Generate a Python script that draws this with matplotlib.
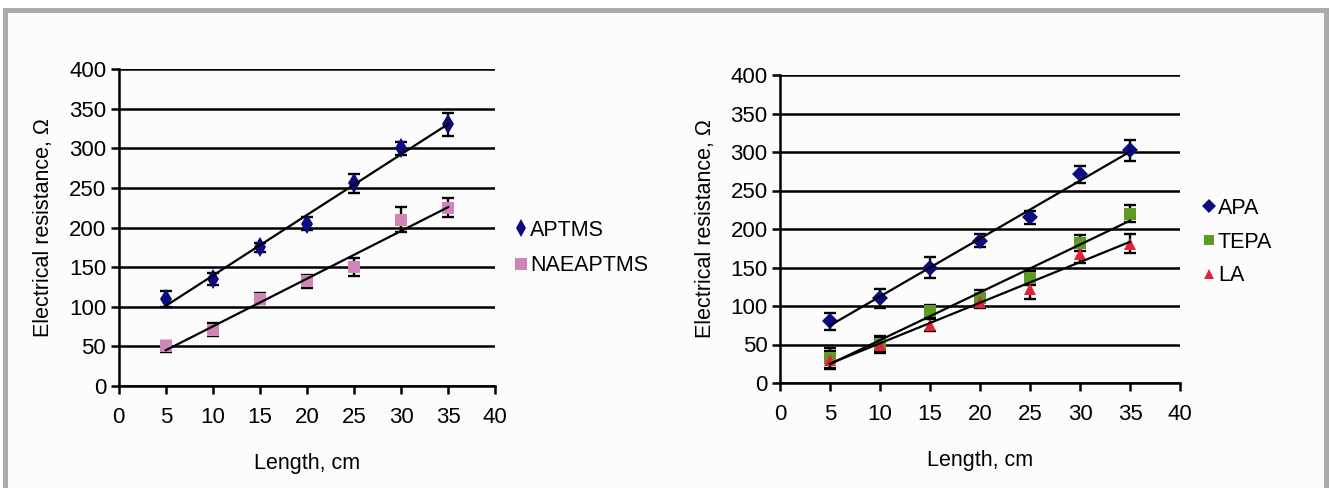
import numpy as np
import matplotlib
matplotlib.use("Agg")
import matplotlib.pyplot as plt
from matplotlib.patches import Rectangle

plt.rcParams['font.family'] = ['Liberation Sans', 'DejaVu Sans']

# ---------------- data ----------------
length = [5, 10, 15, 20, 25, 30, 35]

aptms = [110, 135, 175, 205, 256, 300, 330]
aptms_err = [10, 7, 6, 8, 12, 8, 14]
naeaptms = [50, 71, 110, 132, 150, 210, 225]
naeaptms_err = [7, 8, 7, 8, 11, 16, 12]

apa = [80, 110, 150, 185, 215, 271, 302]
apa_err = [11, 12, 14, 9, 9, 11, 14]
tepa = [32, 51, 93, 110, 136, 182, 220]
tepa_err = [13, 10, 8, 11, 9, 10, 11]
la = [30, 49, 75, 105, 122, 168, 181]
la_err = [12, 10, 8, 8, 13, 12, 12]

x_ticks = [0, 5, 10, 15, 20, 25, 30, 35, 40]
y_ticks = [0, 50, 100, 150, 200, 250, 300, 350, 400]

NAVY = '#0c0c80'
PINK = '#cf86b6'
GREEN = '#5f9b24'
RED = '#e2223a'

TICK_FS = 16
LAB_FS = 15.5

fig = plt.figure(figsize=(13.3, 4.88), dpi=100, facecolor='white')
W, H = 1330, 488

# outer frame
fig.patches.append(Rectangle((5.5 / W, (H - 510) / H), 1320 / W, (510 - 9.5) / H,
                             transform=fig.transFigure, facecolor='#fcfcfc',
                             edgecolor='#ababab', linewidth=3.6, zorder=-10))


def px_axes(x0, x1, ytop, ybot):
    return fig.add_axes([x0 / W, (H - ybot) / H, (x1 - x0) / W, (ybot - ytop) / H])


def style(ax, ylabelpad):
    ax.set_facecolor('none')
    ax.set_xlim(0, 40)
    ax.set_ylim(0, 400)
    ax.set_xticks(x_ticks)
    ax.set_yticks(y_ticks)
    for s in ['top', 'right']:
        ax.spines[s].set_visible(False)
    ax.spines['left'].set_linewidth(1.8)
    ax.spines['bottom'].set_linewidth(1.8)
    ax.yaxis.grid(True, color='black', linewidth=1.8)
    ax.set_axisbelow(True)
    ax.tick_params(axis='both', direction='out', length=6, width=1.8,
                   labelsize=TICK_FS, colors='black')
    ax.tick_params(axis='x', pad=9)
    ax.tick_params(axis='y', pad=3)
    ax.set_xlabel('Length, cm', fontsize=LAB_FS, labelpad=18)
    ax.set_ylabel('Electrical resistance, Ω', fontsize=LAB_FS, labelpad=ylabelpad)


def series(ax, y, err, marker, color, ms, label):
    x = np.array(length)
    yv = np.array(y)
    ax.errorbar(x, yv, yerr=err, fmt='none', ecolor='black', elinewidth=1.7,
                capsize=4, capthick=1.7, zorder=3)
    ax.plot(x, yv, linestyle='none', marker=marker, color=color, markersize=ms,
            markeredgewidth=0, label=label, zorder=4)
    k, b = np.polyfit(x, yv, 1)
    xs = np.array([x.min(), x.max()])
    ax.plot(xs, k * xs + b, color='black', linewidth=1.6, zorder=5)


# ---------------- left chart ----------------
ax1 = px_axes(118.7, 495.3, 69, 386)
style(ax1, 11)
series(ax1, aptms, aptms_err, 'd', NAVY, 10, 'APTMS')
series(ax1, naeaptms, naeaptms_err, 's', PINK, 9, 'NAEAPTMS')
ax1.legend(loc='center left', bbox_to_anchor=(504 / W, (H - 248) / H),
           bbox_transform=fig.transFigure, frameon=False, fontsize=LAB_FS,
           handlelength=0.6, handletextpad=0.1, labelspacing=0.68,
           borderpad=0, markerscale=0.9)

# ---------------- right chart ----------------
ax2 = px_axes(780, 1180, 75, 383)
style(ax2, 10)
series(ax2, apa, apa_err, 'D', NAVY, 8.5, 'APA')
series(ax2, tepa, tepa_err, 's', GREEN, 8.5, 'TEPA')
series(ax2, la, la_err, '^', RED, 8.5, 'LA')
ax2.legend(loc='center left', bbox_to_anchor=(1192 / W, (H - 242) / H),
           bbox_transform=fig.transFigure, frameon=False, fontsize=LAB_FS,
           handlelength=0.6, handletextpad=0.1, labelspacing=0.6,
           borderpad=0, markerscale=0.85)

fig.savefig('out.png', dpi=100, facecolor='white')
